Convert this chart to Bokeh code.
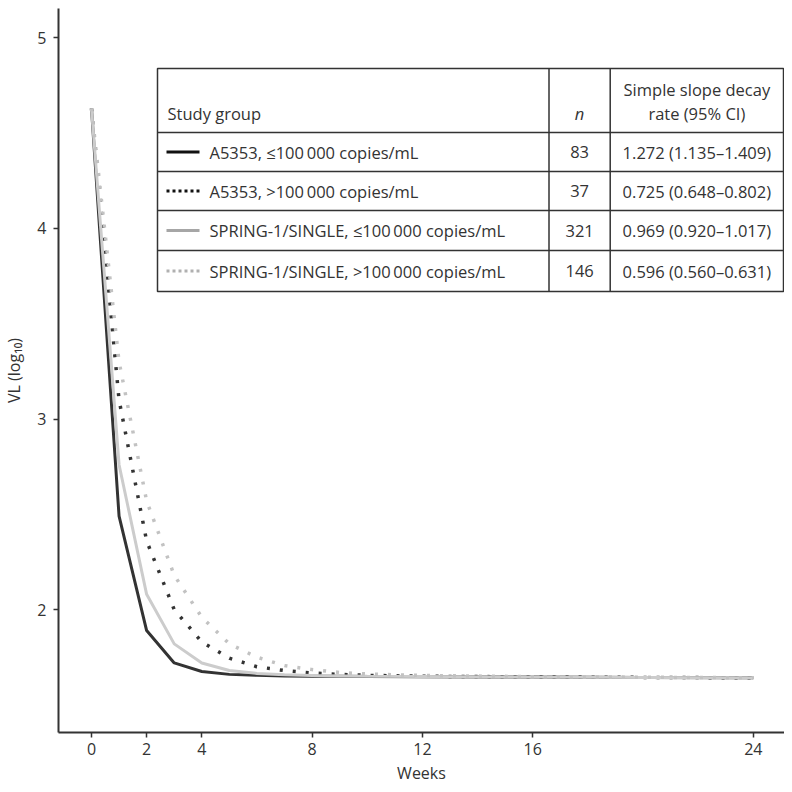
from bokeh.plotting import figure
from bokeh.models import Range1d, FixedTicker
from bokeh.core.properties import value
from bokeh.embed import file_html
from bokeh.resources import INLINE

# ---- data ----
weeks = [0, 1, 2, 3, 4, 5, 6, 7, 8, 9, 10, 12, 16, 20, 24]
a5353_low = [4.63, 2.49, 1.89, 1.72, 1.675, 1.66, 1.655, 1.652, 1.65, 1.65, 1.649, 1.648, 1.646, 1.644, 1.642]
a5353_high = [4.63, 3.10, 2.36, 2.00, 1.83, 1.745, 1.70, 1.68, 1.667, 1.66, 1.655, 1.65, 1.647, 1.644, 1.642]
spring_low = [4.63, 2.76, 2.08, 1.82, 1.72, 1.68, 1.665, 1.658, 1.654, 1.652, 1.65, 1.649, 1.646, 1.644, 1.642]
spring_high = [4.63, 3.30, 2.57, 2.18, 1.96, 1.82, 1.75, 1.706, 1.685, 1.67, 1.662, 1.654, 1.648, 1.645, 1.642]

x_ticks = [0, 2, 4, 8, 12, 16, 24]
y_ticks = [2, 3, 4, 5]

table_header = ["Study group", "n", "Simple slope decay", "rate (95% CI)"]
study_groups = [
    "A5353, \u2264100\u2009000 copies/mL",
    "A5353, >100\u2009000 copies/mL",
    "SPRING-1/SINGLE, \u2264100\u2009000 copies/mL",
    "SPRING-1/SINGLE, >100\u2009000 copies/mL",
]
n_values = ["83", "37", "321", "146"]
decay_rates = [
    "1.272 (1.135\u20131.409)",
    "0.725 (0.648\u20130.802)",
    "0.969 (0.920\u20131.017)",
    "0.596 (0.560\u20130.631)",
]

FONT = "Open Sans"
FS = "16px"
TFS = "16.5px"
TXT = "#333333"
AX = "#333333"

FW, FH = 726, 724
p = figure(frame_width=FW, frame_height=FH,
           x_range=Range1d(-1.196, 25.13), y_range=Range1d(1.355, 5.154),
           output_backend="svg", toolbar_location=None,
           min_border_left=50, min_border_right=0, min_border_top=8, min_border_bottom=52)
p.extra_x_ranges = {"px": Range1d(0, FW)}
p.extra_y_ranges = {"py": Range1d(FH, 0)}

p.outline_line_color = None
p.xgrid.visible = False
p.ygrid.visible = False
p.background_fill_color = "white"
p.border_fill_color = "white"

for ax in (p.xaxis[0], p.yaxis[0]):
    ax.axis_line_color = AX
    ax.axis_line_width = 2
    ax.major_tick_line_color = AX
    ax.major_tick_line_width = 1.5
    ax.major_tick_in = 0
    ax.major_tick_out = 5
    ax.minor_tick_line_color = None
    ax.major_label_text_font = FONT
    ax.major_label_text_font_size = FS
    ax.major_label_text_color = TXT
    ax.axis_label_text_font = FONT
    ax.axis_label_text_font_size = FS
    ax.axis_label_text_color = TXT
    ax.axis_label_text_font_style = "normal"

p.xaxis.ticker = FixedTicker(ticks=x_ticks)
p.yaxis.ticker = FixedTicker(ticks=y_ticks)
p.xaxis.axis_label = "Weeks"
p.yaxis.axis_label = "VL (log\u2081\u2080)"
p.xaxis.major_label_standoff = 5
p.xaxis.axis_label_standoff = 4
p.yaxis.major_label_standoff = 7
p.yaxis.axis_label_standoff = 9

# ---- curves ----
p.line(weeks, a5353_low, line_color="#333333", line_width=3)
p.line(weeks, a5353_high, line_color="#333333", line_width=3.5, line_dash="3 10")
p.line(weeks, spring_low, line_color="#cccccc", line_width=3)
p.line(weeks, spring_high, line_color="#c2c2c2", line_width=3.5, line_dash="3 10")

# ---- table (pixel coordinates inside the frame) ----
kw = dict(x_range_name="px", y_range_name="py")
T_L, T_R, T_T, T_B = 99, 725, 60, 283
C1, C2 = 490.5, 551.7
row_lines = [124, 163, 202, 242]
row_mid = [143.5, 182.5, 222, 262.5]

p.quad(left=[T_L], right=[T_R], top=[T_T], bottom=[T_B], fill_color="white",
       line_color=AX, line_width=1.5, **kw)
p.segment(x0=[T_L] * 4, x1=[T_R] * 4, y0=row_lines, y1=row_lines,
          line_color=AX, line_width=1.5, **kw)
p.segment(x0=[C1, C2], x1=[C1, C2], y0=[T_T, T_T], y1=[T_B, T_B],
          line_color=AX, line_width=1.5, **kw)

# legend samples
sample_colors = ["#111111", "#111111", "#a6a6a6", "#b0b0b0"]
sample_dash = ["solid", "3 3", "solid", "3 3"]
for yv, c, d in zip(row_mid, sample_colors, sample_dash):
    p.segment(x0=[108], x1=[141], y0=[yv], y1=[yv], line_color=c,
              line_width=3, line_dash=d, **kw)

tkw = dict(text_font=value(FONT), text_font_size=TFS, text_color=TXT,
           text_baseline="middle", **kw)
p.text(x=[109], y=[105], text=[table_header[0]], text_align="left", **tkw)
p.text(x=[(C1 + C2) / 2], y=[105], text=[table_header[1]], text_align="center",
       text_font_style="italic", **tkw)
p.text(x=[(C2 + T_R) / 2] * 2, y=[81, 105], text=table_header[2:4], text_align="center", **tkw)
p.text(x=[151] * 4, y=row_mid, text=study_groups, text_align="left", **tkw)
p.text(x=[(C1 + C2) / 2] * 4, y=row_mid, text=n_values, text_align="center", **tkw)
p.text(x=[(C2 + T_R) / 2] * 4, y=row_mid, text=decay_rates, text_align="center", **tkw)

open("out.html", "w").write(file_html(p, INLINE))
